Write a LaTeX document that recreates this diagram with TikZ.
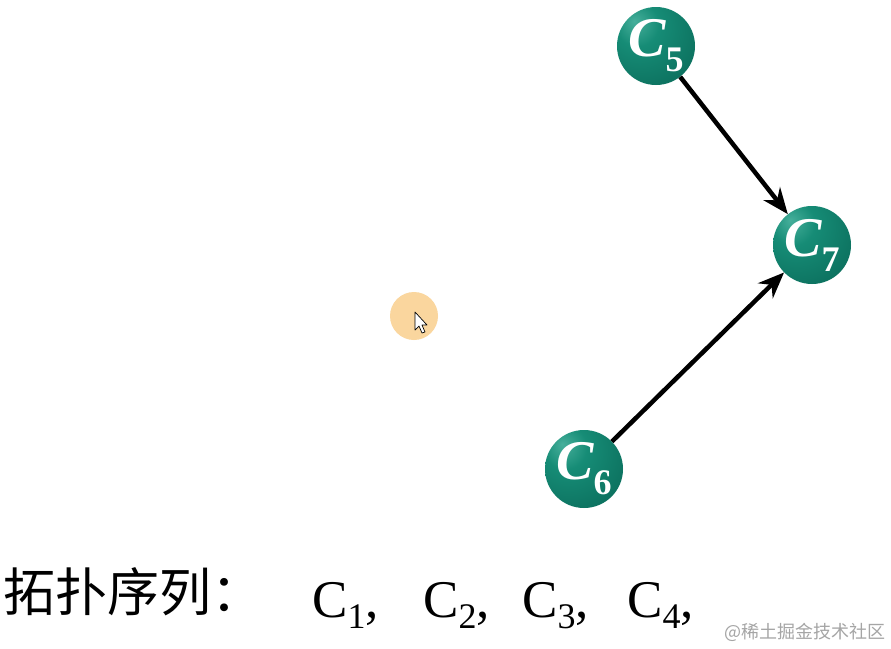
\documentclass[tikz,border=0pt]{standalone}
\usepackage{fontspec}
\setmainfont{Liberation Serif}
\newfontfamily\cjk{Noto Sans CJK SC}
\usetikzlibrary{arrows.meta}
\definecolor{cursorbg}{RGB}{250,214,158}
\definecolor{wmgray}{RGB}{165,165,165}
\pgfdeclareradialshading{tealsphere}{\pgfpoint{-14bp}{16bp}}{%
  color(0bp)=(rgb,255:red,70;green,175;blue,155);
  color(14bp)=(rgb,255:red,22;green,140;blue,118);
  color(40bp)=(rgb,255:red,12;green,112;blue,94);
  color(60bp)=(rgb,255:red,6;green,92;blue,78);
  color(100bp)=(rgb,255:red,6;green,92;blue,78)}
\newcommand{\nodelab}[1]{{\fontsize{56}{56}\selectfont\bfseries\itshape C}\raisebox{-15pt}{\fontsize{36}{36}\selectfont\bfseries #1}}
\newcommand{\seqitem}[1]{{\fontsize{53}{53}\selectfont C}\raisebox{-11pt}{\fontsize{36}{36}\selectfont #1}{\fontsize{53}{53}\selectfont ,}}
\tikzset{
  ballnode/.style={circle, minimum size=78pt, inner sep=0pt, shading=tealsphere, text=white},
  arr/.style={line width=4.5pt, -{Stealth[length=26pt,width=21pt]}},
  seq/.style={anchor=base west, inner sep=0pt},
}
\begin{document}
\begin{tikzpicture}[x=1pt,y=-1pt]
\useasboundingbox[fill=white] (0,0) rectangle (891,648);
% cursor highlight
\fill[cursorbg] (414,316) circle (24);
\draw[fill=white, line width=0.7pt, line join=round] (415,312) -- (415,330) -- (419,326) -- (422,333) -- (425,332) -- (422,325) -- (427,325) -- cycle;
% nodes
\node[ballnode] (c5) at (656,46) {\nodelab{5}};
\node[ballnode] (c7) at (812,245) {\nodelab{7}};
\node[ballnode] (c6) at (584,469) {\nodelab{6}};
\draw[arr] (c5) -- (c7);
\draw[arr] (c6) -- (c7);
% sequence
\node[seq] (title) at (3,611) {\cjk\fontsize{52}{52}\selectfont 拓扑序列：};
\node[seq] (s1) at (312,617) {\seqitem{1}};
\node[seq] (s2) at (423,617) {\seqitem{2}};
\node[seq] (s3) at (522,617) {\seqitem{3}};
\node[seq] (s4) at (627,617) {\seqitem{4}};
\node[anchor=west, inner sep=0pt, text=wmgray] (wm) at (724,632) {\cjk\fontsize{18}{18}\selectfont @稀土掘金技术社区};
\end{tikzpicture}
\end{document}
